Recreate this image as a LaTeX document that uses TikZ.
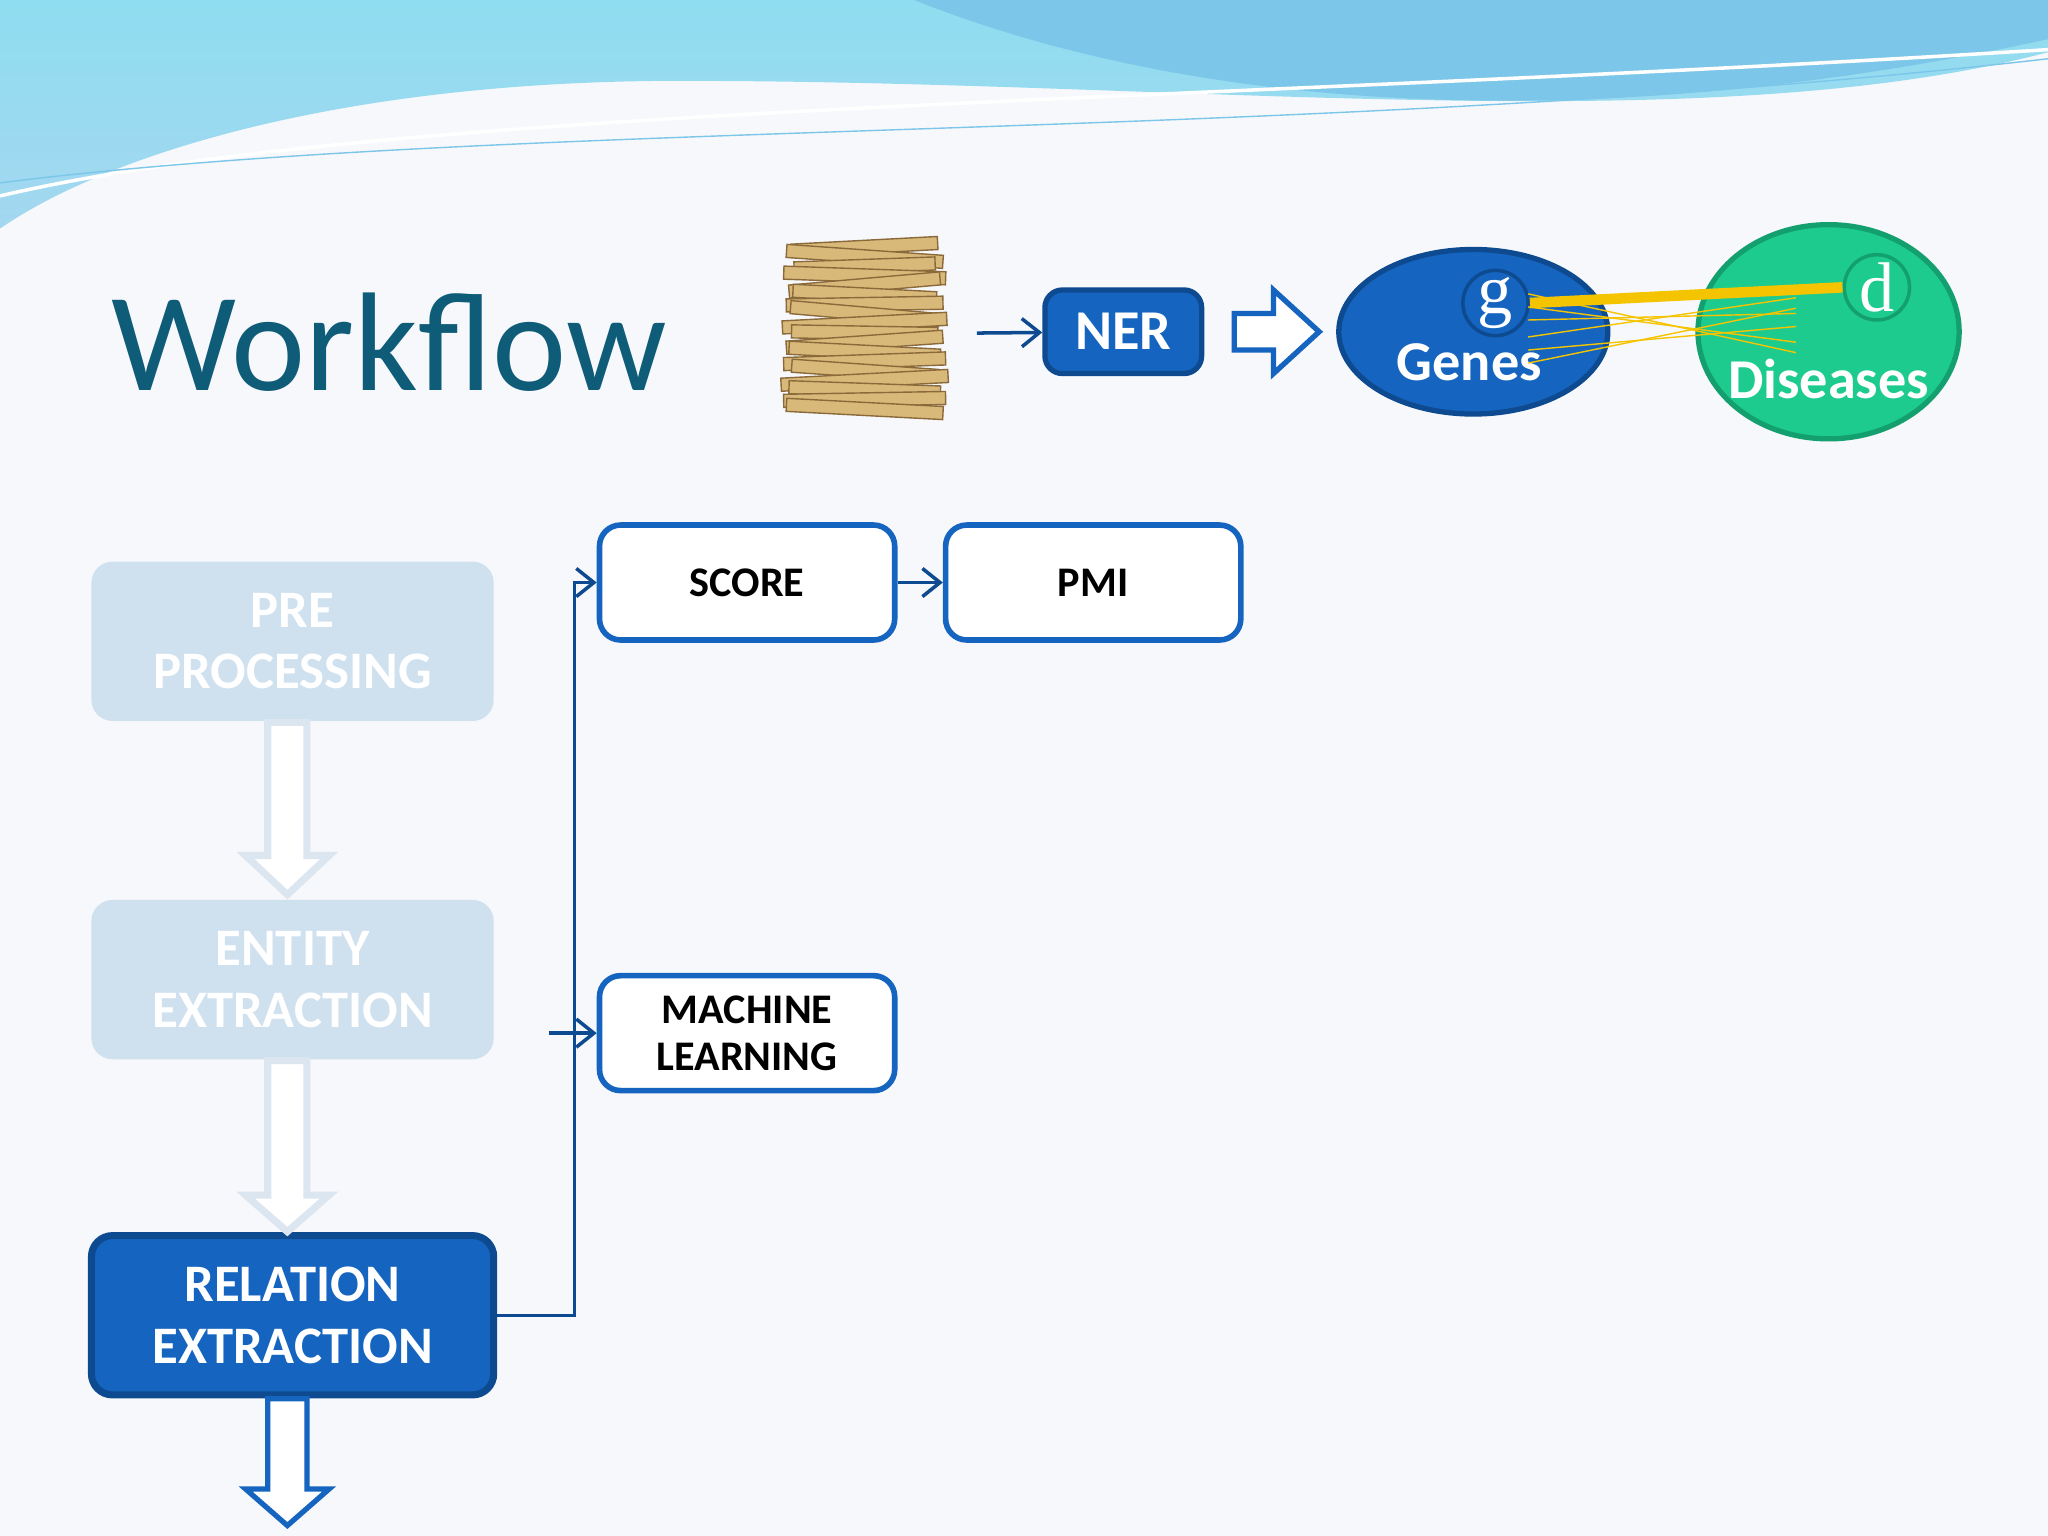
\documentclass[tikz,border=0pt]{standalone}
\usepackage{fontspec}
\setmainfont{Carlito}
\newfontfamily\serifc{Liberation Serif}
\usetikzlibrary{positioning,arrows.meta,shapes.geometric}
\definecolor{bgc}{HTML}{F7F8FB}
\definecolor{titlec}{HTML}{0E5C78}
\definecolor{nerblue}{HTML}{1565C0}
\definecolor{darkblue}{HTML}{0D4A8F}
\definecolor{paleblue}{HTML}{CFE0EF}
\definecolor{palearrow}{HTML}{DCE6F0}
\definecolor{skyc}{HTML}{8FDDF0}
\definecolor{skyd}{HTML}{7CC6EA}
\definecolor{greenc}{HTML}{1DCB8F}
\definecolor{greend}{HTML}{14A06E}
\definecolor{yellowc}{HTML}{F5C400}
\definecolor{paperc}{HTML}{D9B97A}
\definecolor{paperd}{HTML}{8A6A3A}
\tikzset{
  stepbox/.style={rectangle, rounded corners=6pt, minimum width={308*0.01306cm}, minimum height={122*0.01306cm},
    align=center, font=\fontsize{15}{17.5}\selectfont\bfseries, text=white},
  smallbox/.style={rectangle, rounded corners=6pt, draw=nerblue, line width=1.6pt, fill=white,
    minimum width={226*0.01306cm}, minimum height={88*0.01306cm}, align=center,
    font=\fontsize{12}{13.4}\selectfont\bfseries},
  flow/.style={draw=darkblue, line width=1pt, -{Straight Barb[length=5pt,width=8pt]}},
  setc/.style={ellipse, line width=1.5pt},
  tagc/.style={circle, minimum size={50*0.01306cm}, line width=1pt, font=\serifc\fontsize{20}{20}\selectfont, text=white, inner sep=0pt},
}
\begin{document}
\begin{tikzpicture}[x=0.01306cm, y=-0.01306cm]
  \useasboundingbox (0,0) rectangle (1568,1176);
  \fill[bgc] (0,0) rectangle (1568,1176);
  % banner
  \shade[top color=skyc, bottom color=skyd!70] (0,0) -- (1568,0) -- (1568,40)
    .. controls (1300,110) and (900,60) .. (500,62) .. controls (250,65) and (80,120) .. (0,175) -- cycle;
  \fill[skyd] (700,0) .. controls (900,80) and (1200,110) .. (1568,30) -- (1568,0) -- cycle;
  \draw[white, line width=1pt] (0,150) .. controls (300,80) and (900,80) .. (1568,38);
  \draw[skyd, thin] (0,140) .. controls (400,90) and (1000,110) .. (1568,45);
  % title
  \node[text=titlec, font=\fontsize{40}{44}\selectfont] (title) at (298,262) {Workflow};
  % paper stack
  \foreach \i/\r/\w in {0/3/56,1/-4/60,2/2/54,3/-2/62,4/5/58,5/-3/55,6/1/60,7/-5/57,8/3/63,9/-1/56,10/4/60,11/-3/58,12/2/62,13/-4/56,14/3/64,15/-2/58,16/1/62,17/-3/60}
    \draw[paperd, fill=paperc, rotate around={\r:(662,190+\i*7.3)}] (662-\w,184+\i*7.3) rectangle (662+\w,194+\i*7.3);
  \coordinate (stack) at (748,255);
  % NER
  \node[rectangle, rounded corners=5pt, fill=nerblue, draw=darkblue, line width=1.5pt, text=white,
    minimum width={120*0.01306cm}, minimum height={64*0.01306cm}, font=\fontsize{16}{16}\selectfont\bfseries] (ner) at (860,254) {NER};
  \draw[flow] (stack) -- (ner);
  \draw[nerblue, line width=1.5pt, fill=white] (945,240) -- (975,240) -- (975,222) -- (1010,254) -- (975,286) -- (975,268) -- (945,268) -- cycle;
  % sets
  \node[setc, fill=greenc, draw=greend, minimum width={200*0.01306cm}, minimum height={164*0.01306cm}] (dis) at (1400,254) {};
  \node[setc, fill=nerblue, draw=darkblue, minimum width={206*0.01306cm}, minimum height={126*0.01306cm}] (genes) at (1128,254) {};
  \node[tagc, draw=darkblue] (g) at (1145,232) {g};
  \node[tagc, draw=greend] (d) at (1437,220) {d};
  \node[text=white, font=\fontsize{16}{16}\selectfont\bfseries] at (1125,277) {Genes};
  \node[text=white, font=\fontsize{16}{16}\selectfont\bfseries] at (1400,290) {Diseases};
  \foreach \a/\b in {235/262,245/240,258/228,268/250,278/236,225/270}
    \draw[yellowc, thin] (1170,\a) -- (1375,\b);
  \draw[yellowc, line width=3pt] (g.east) -- (d.west);
  % left column
  \node[stepbox, fill=paleblue] (pre) at (224,491) {PRE\\PROCESSING};
  \node[stepbox, fill=paleblue] (ent) at (224,750) {ENTITY\\EXTRACTION};
  \node[stepbox, fill=nerblue, draw=darkblue, line width=2pt] (rel) at (224,1007) {RELATION\\EXTRACTION};
  \draw[palearrow, line width=2pt, fill=white] (205,553) -- (235,553) -- (235,655) -- (252,655) -- (220,685) -- (188,655) -- (205,655) -- cycle;
  \draw[palearrow, line width=2pt, fill=white] (205,812) -- (235,812) -- (235,915) -- (252,915) -- (220,943) -- (188,915) -- (205,915) -- cycle;
  \draw[nerblue, line width=1.5pt, fill=white] (205,1071) -- (235,1071) -- (235,1140) -- (252,1140) -- (220,1168) -- (188,1140) -- (205,1140) -- cycle;
  % methods
  \node[smallbox] (score) at (572,446) {SCORE};
  \node[smallbox] (pmi) at (837,446) {PMI};
  \node[smallbox] (ml) at (572,791) {MACHINE\\LEARNING};
  \coordinate (mlin) at (420,791);
  \draw[flow] (rel.east) -| (440,446) -- (score.west);
  \draw[flow] (mlin) -- (ml.west);
  \draw[flow] (score) -- (pmi);
\end{tikzpicture}
\end{document}
